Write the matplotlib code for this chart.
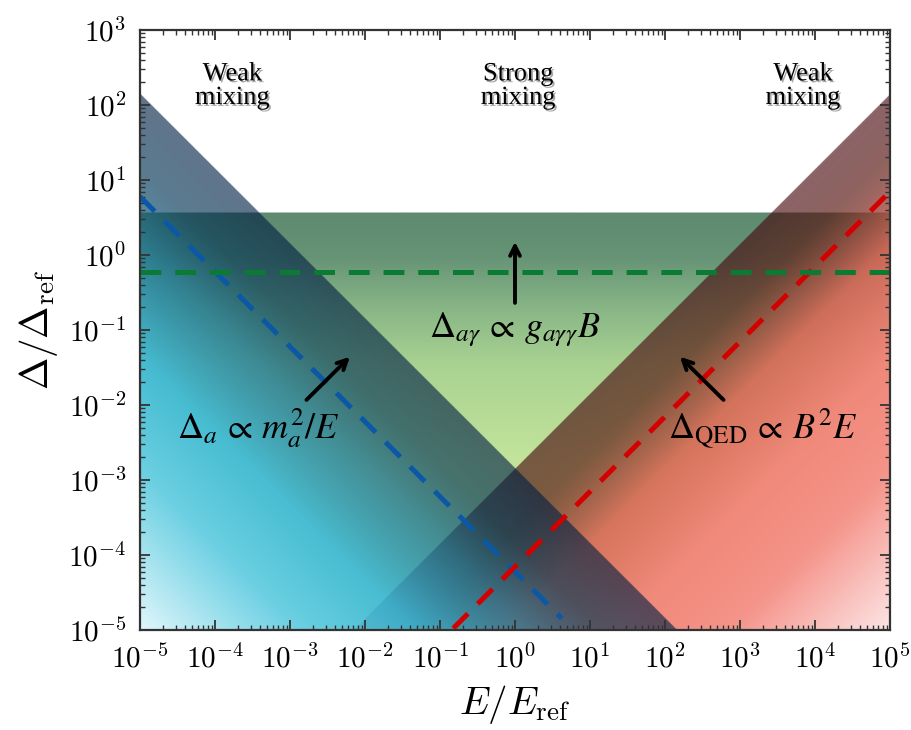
import numpy as np
import matplotlib
matplotlib.use('Agg')
import matplotlib.pyplot as plt
import matplotlib.patheffects as pe
from matplotlib.ticker import LogLocator, NullFormatter

plt.rcParams['mathtext.fontset'] = 'cm'
plt.rcParams['lines.scale_dashes'] = False

# axis ranges
E_lim = [1e-5, 1e5]
D_lim = [1e-5, 1e3]

# region boundaries (two points on each line)
desc_E = [1e-5, 1e2]
desc_D = [1.41e2, 1.41e-5]
asc_E = [1e-2, 1e5]
asc_D = [1.41e-5, 1.41e2]
band_top = 3.7

# dashed curves
blue_E = [1e-5, 4.2]
blue_D = [6.0, 1.43e-5]
red_E = [0.15, 1e5]
red_D = [1.05e-5, 7.0]
green_E = [1e-5, 1e5]
green_D = [0.6, 0.6]

# arrows (tail -> head)
arrow_tail_E = [1.0, 1.66e-3, 603.0]
arrow_tail_D = [0.23, 1.17e-2, 1.17e-2]
arrow_head_E = [1.0, 6.3e-3, 158.0]
arrow_head_D = [1.5, 4.4e-2, 4.4e-2]

# region labels
region_labels = ['Weak\nmixing', 'Strong\nmixing', 'Weak\nmixing']
region_E = [1.7e-4, 1.1, 6.9e3]
region_D = [178.0, 178.0, 178.0]

formula_labels = [r'$\Delta_a\,\propto\,m_a^{2}/E$',
                  r'$\Delta_{a\gamma}\,\propto\,g_{a\gamma\gamma}B$',
                  r'$\Delta_{\mathrm{QED}}\,\propto\,B^{2}E$']
formula_E = [3.8e-4, 1.0, 2.0e3]
formula_D = [4.9e-3, 0.1, 4.9e-3]

# colour ramps: (distance in decades, r, g, b, alpha)
green_stops = [(0.0, 0.37, 0.54, 0.44, 1), (0.6, 0.40, 0.58, 0.46, 1),
               (1.2, 0.52, 0.70, 0.52, 1), (2.0, 0.66, 0.82, 0.57, 1),
               (3.4, 0.77, 0.90, 0.61, 1), (6.0, 0.78, 0.91, 0.62, 1)]
blue_stops = [(0.0, 0.00, 0.12, 0.26, 0.62), (1.0, 0.02, 0.22, 0.34, 0.66),
              (2.0, 0.10, 0.45, 0.58, 0.75), (3.5, 0.22, 0.72, 0.85, 0.88),
              (5.0, 0.40, 0.81, 0.90, 0.95), (7.2, 0.90, 0.97, 0.99, 1.0)]
red_stops = [(0.0, 0.27, 0.02, 0.05, 0.62), (0.8, 0.35, 0.10, 0.08, 0.68),
             (2.0, 0.85, 0.38, 0.32, 0.85), (3.5, 0.95, 0.52, 0.47, 0.95),
             (5.0, 0.96, 0.58, 0.54, 1.0), (7.2, 0.99, 0.91, 0.91, 1.0)]


def line_coef(xs, ys):
    lx, ly = np.log10(xs), np.log10(ys)
    b = (ly[1] - ly[0]) / (lx[1] - lx[0])
    return ly[0] - b * lx[0], b


def ramp(d, stops):
    pos = [s[0] for s in stops]
    return np.stack([np.interp(d, pos, [s[i] for s in stops]) for i in range(1, 5)], axis=-1)


lu = np.log10(E_lim)
lv = np.log10(D_lim)
U, V = np.meshgrid(np.linspace(lu[0], lu[1], 1200), np.linspace(lv[0], lv[1], 960))

a1, b1 = line_coef(desc_E, desc_D)
a2, b2 = line_coef(asc_E, asc_D)
d1 = a1 + b1 * U - V
d2 = a2 + b2 * U - V
d3 = np.log10(band_top) - V

img = np.ones(U.shape + (3,))
g = ramp(d3, green_stops)[..., :3]
img[d3 > 0] = g[d3 > 0]
for d, stops in [(d2, red_stops), (d1, blue_stops)]:
    c = ramp(d, stops)
    a = c[..., 3:]
    img = np.where((d > 0)[..., None], img * (1 - a) + c[..., :3] * a, img)

fig = plt.figure(figsize=(9.12, 7.30), dpi=100)
rect = [0.1535, 0.137, 0.8224, 0.8219]

ax_bg = fig.add_axes(rect)
ax_bg.imshow(img, extent=[lu[0], lu[1], lv[0], lv[1]], origin='lower',
             aspect='auto', interpolation='bilinear')
ax_bg.set_xlim(lu)
ax_bg.set_ylim(lv)
ax_bg.set_axis_off()

ax = fig.add_axes(rect, facecolor='none')
ax.set_xscale('log')
ax.set_yscale('log')
ax.set_xlim(E_lim)
ax.set_ylim(D_lim)

ax.plot(blue_E, blue_D, color='#0a58a6', lw=3.6, dashes=(15, 10))
ax.plot(red_E, red_D, color='#d40000', lw=3.6, dashes=(15, 10))
ax.plot(green_E, green_D, color='#0b7a32', lw=3.6, dashes=(15, 10))

for te, td, he, hd in zip(arrow_tail_E, arrow_tail_D, arrow_head_E, arrow_head_D):
    ax.annotate('', xy=(he, hd), xytext=(te, td),
                arrowprops=dict(arrowstyle='->,head_length=0.7,head_width=0.35',
                                lw=2.8, color='black', shrinkA=0, shrinkB=0))

shadow = [pe.withSimplePatchShadow(offset=(1.3, -1.3), shadow_rgbFace='black', alpha=0.35)]
for s, x, y in zip(region_labels, region_E, region_D):
    ax.text(x, y, s, ha='center', va='center', fontsize=19, family='Liberation Serif',
            linespacing=1.1, path_effects=shadow)

for s, x, y in zip(formula_labels, formula_E, formula_D):
    ax.text(x, y, s, ha='center', va='center', fontsize=26, math_fontfamily='stix')

xt = np.arange(-5, 6)
yt = np.arange(-5, 4)
ax.set_xticks(10.0 ** xt)
ax.set_xticklabels([r'$10^{%d}$' % k for k in xt])
ax.set_yticks(10.0 ** yt)
ax.set_yticklabels([r'$10^{%d}$' % k for k in yt])
ax.xaxis.set_minor_locator(LogLocator(base=10, subs=np.arange(2, 10), numticks=100))
ax.yaxis.set_minor_locator(LogLocator(base=10, subs=np.arange(2, 10), numticks=100))
ax.xaxis.set_minor_formatter(NullFormatter())
ax.yaxis.set_minor_formatter(NullFormatter())
ax.tick_params(which='both', direction='in', top=True, right=True, color='#333333')
ax.tick_params(which='major', length=7, width=1.3, labelsize=21, pad=10)
ax.tick_params(which='minor', length=3.5, width=1.0)
for sp in ax.spines.values():
    sp.set_color('#333333')
    sp.set_linewidth(1.6)

ax.set_xlabel(r'$E/E_{\mathrm{ref}}$', fontsize=28, labelpad=7)
ax.set_ylabel(r'$\Delta/\Delta_{\mathrm{ref}}$', fontsize=28, labelpad=6)

fig.savefig('out.png', dpi=100)
